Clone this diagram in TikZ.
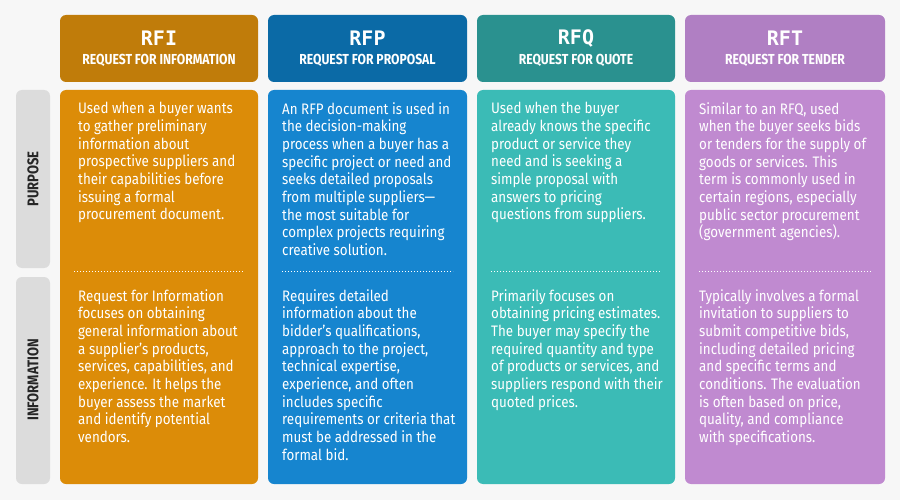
\documentclass[tikz,border=0pt]{standalone}
\usepackage{fontspec}
\setmainfont{Fira Sans}[FakeStretch=0.88]
\newfontfamily\hdmono{DejaVu Sans Mono}
\newfontfamily\subfont{Fira Sans}[FakeStretch=0.84]
\definecolor{bgc}{HTML}{F7F7F7}
\definecolor{sidec}{HTML}{DCDCDC}
\definecolor{hA}{HTML}{C07C0A}\definecolor{bA}{HTML}{DC8C08}
\definecolor{hB}{HTML}{0B6AA6}\definecolor{bB}{HTML}{1685CF}
\definecolor{hC}{HTML}{2A918F}\definecolor{bC}{HTML}{3BBBB6}
\definecolor{hD}{HTML}{B07FC3}\definecolor{bD}{HTML}{C08AD0}
\tikzset{
  box/.style={rounded corners=6pt,draw=none},
  btxt/.style={anchor=north west,align=left,text=white,font=\fontsize{15.2}{17.7}\selectfont,inner sep=0pt},
  sidelbl/.style={rotate=90,font=\subfont\bfseries\fontsize{15.5}{17}\selectfont,text=black!85},
  dots/.style={white,line width=1pt,dash pattern=on 1pt off 2pt},
}
\begin{document}
\begin{tikzpicture}[x=1pt,y=-1pt]
\fill[bgc] (0,0) rectangle (900,500);
\useasboundingbox (0,0) rectangle (900,500);
% side labels
\fill[box,sidec] (16,90) rectangle (50,268);
\fill[box,sidec] (16,277) rectangle (50,484);
\node[sidelbl] (pur) at (33,179) {PURPOSE};
\node[sidelbl] (inf) at (33,380) {INFORMATION};
\foreach \x/\w/\h/\b/\ab/\nm in {60/198/hA/bA/RFI/REQUEST FOR INFORMATION,268/199/hB/bB/RFP/REQUEST FOR PROPOSAL,477/198/hC/bC/RFQ/REQUEST FOR QUOTE,685/200/hD/bD/RFT/REQUEST FOR TENDER}{
  \fill[box,\h] (\x,15) rectangle ++(\w,67);
  \fill[box,\b] (\x,90) rectangle ++(\w,394);
  \node[text=white,font=\hdmono\bfseries\fontsize{20}{22}\selectfont] at (\x+\w/2,38) {\ab};
  \node[text=white,font=\subfont\bfseries\fontsize{14.5}{16}\selectfont] at (\x+\w/2,60) {\nm};
  \draw[dots] (\x+14,271) -- (\x+\w-14,271);
}
\node[btxt] (a1) at (78,102) {Used when a buyer wants\\to gather preliminary\\information about\\prospective suppliers and\\their capabilities before\\issuing a formal\\procurement document.};
\node[btxt] (a2) at (78,289) {Request for Information\\focuses on obtaining\\general information about\\a supplier's products,\\services, capabilities, and\\experience. It helps the\\buyer assess the market\\and identify potential\\vendors.};
\node[btxt] (b1) at (282,102) {An RFP document is used in\\the decision-making\\process when a buyer has a\\specific project or need and\\seeks detailed proposals\\from multiple suppliers—\\the most suitable for\\complex projects requiring\\creative solution.};
\node[btxt] (b2) at (282,289) {Requires detailed\\information about the\\bidder's qualifications,\\approach to the project,\\technical expertise,\\experience, and often\\includes specific\\requirements or criteria that\\must be addressed in the\\formal bid.};
\node[btxt] (c1) at (491,102) {Used when the buyer\\already knows the specific\\product or service they\\need and is seeking a\\simple proposal with\\answers to pricing\\questions from suppliers.};
\node[btxt] (c2) at (491,289) {Primarily focuses on\\obtaining pricing estimates.\\The buyer may specify the\\required quantity and type\\of products or services, and\\suppliers respond with their\\quoted prices.};
\node[btxt] (d1) at (699,102) {Similar to an RFQ, used\\when the buyer seeks bids\\or tenders for the supply of\\goods or services. This\\term is commonly used in\\certain regions, especially\\public sector procurement\\(government agencies).};
\node[btxt] (d2) at (699,289) {Typically involves a formal\\invitation to suppliers to\\submit competitive bids,\\including detailed pricing\\and specific terms and\\conditions. The evaluation\\is often based on price,\\quality, and compliance\\with specifications.};
\end{tikzpicture}
\end{document}
